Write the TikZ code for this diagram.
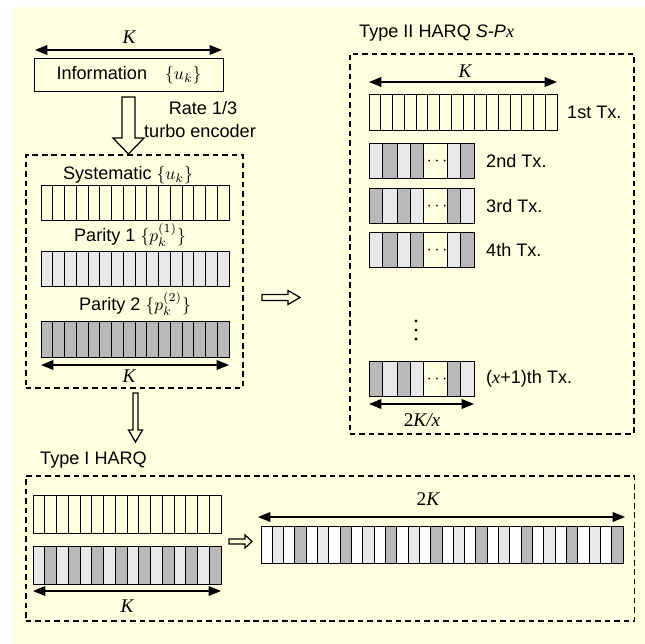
\documentclass[tikz,border=0pt]{standalone}
\usepackage{fontspec}
\setmainfont{Liberation Sans}
\newfontfamily\tnr{Liberation Serif}
\usetikzlibrary{arrows.meta,positioning,calc}
\definecolor{paper}{RGB}{255,255,224}

\tikzset{
  cell/.style={draw, line width=0.55pt},
  lite/.style={cell, fill=gray!18},
  dark/.style={cell, fill=gray!55},
  blank/.style={cell, fill=white},
  bar/.style={inner sep=0pt, anchor=north west, minimum height=0.7cm},
  dim/.style={{Triangle[length=7pt,width=5.5pt]}-{Triangle[length=7pt,width=5.5pt]}, line width=0.7pt},
  group/.style={draw, line width=0.9pt, dash pattern=on 3.2pt off 2.2pt,
    inner sep=0pt, anchor=north west},
  hollow/.style={draw, line width=0.7pt, fill=paper, line join=miter},
  sym/.style={font=\fontsize{11}{12}\selectfont\tnr\itshape}
}

\begin{document}
\begin{tikzpicture}[x=0.02cm, y=-0.02cm,
  every node/.style={font=\fontsize{10.3}{12}\selectfont}]

\useasboundingbox (0,0) rectangle (645,644);
\fill[paper] (13,7) rectangle (645,644);

% ======================================================================
% ENCODER : information word and rate 1/3 turbo encoder output
% ======================================================================
\node[draw, line width=0.6pt, inner sep=0pt, anchor=north west,
      minimum width=3.78cm, minimum height=0.66cm] (info) at (34,58)
  {Information\quad$\{u_k\}$};
\draw[dim] (35,50) -- (222,50);
\node[sym] (kinfo) at (129,37) {K};

\node[group, minimum width=4.34cm, minimum height=4.66cm] (enc) at (25,154) {};

% big hollow arrow (info -> encoder output)
\draw[hollow] (122,97) -- (135,97) -- (135,138) -- (144,138) -- (128.5,154)
  -- (113,138) -- (122,138) -- cycle;
\node (rate) at (203,108) {Rate 1/3};
\node (turbo) at (200,131) {turbo encoder};

% systematic / parity bars (16 cells each)
\node (syslab) at (128,175) {Systematic $\{u_k\}$};
\foreach \i in {0,...,15}
  \draw[cell] ({41+11.75*\i},185) rectangle ++(11.75,35);
\node[bar, minimum width=3.76cm] (sys) at (41,185) {};

\node (p1lab) at (130,235) {Parity 1 $\{p_k^{(1)}\}$};
\foreach \i in {0,...,15}
  \draw[lite] ({41+11.75*\i},251) rectangle ++(11.75,35);
\node[bar, minimum width=3.76cm] (par1) at (41,251) {};

\node (p2lab) at (135,304) {Parity 2 $\{p_k^{(2)}\}$};
\foreach \i in {0,...,15}
  \draw[dark] ({41+11.75*\i},321) rectangle ++(11.75,36);
\node[bar, minimum width=3.76cm] (par2) at (41,321) {};
\draw[dim] (41,365) -- (229,365);
\node[sym] (kenc) at (129,376) {K};

% ======================================================================
% TYPE II HARQ S-Px
% ======================================================================
\node[anchor=west] (t2lab) at (353,33) {Type II HARQ \textit{S-P}{\tnr\itshape x}};
\node[group, minimum width=5.68cm, minimum height=7.6cm] (t2) at (349,53) {};

% hollow arrow (encoder output -> type II)
\draw[hollow] (262,294.5) -- (288,294.5) -- (288,290.5) -- (300,297.5)
  -- (288,304.5) -- (288,300.5) -- (262,300.5) -- cycle;

\draw[dim] (369,82) -- (557,82);
\node[sym] (kt2) at (465,71) {K};
\foreach \i in {0,...,15}
  \draw[cell] ({369+11.75*\i},94) rectangle ++(11.75,36);
\node[bar, minimum width=3.76cm] (tx1) at (369,94) {};
\node[anchor=west] (tx1lab) at (561,112) {1st Tx.};

% punctured retransmissions: cells a,b,a,b,...,a,b
\foreach \y/\a/\b/\name in {143/lite/dark/tx2, 188/dark/lite/tx3,
                           232/lite/dark/tx4, 361/dark/lite/txx}{
  \draw[\a] (369,\y) rectangle ++(13,35);
  \draw[\b] (382,\y) rectangle ++(15,35);
  \draw[\a] (397,\y) rectangle ++(13,35);
  \draw[\b] (410,\y) rectangle ++(13,35);
  \draw[cell] (423,\y) rectangle ++(24,35);
  \draw[\a] (447,\y) rectangle ++(13,35);
  \draw[\b] (460,\y) rectangle ++(14,35);
  \node[inner sep=0pt] at (437,{\y+19}) {$\cdots$};
  \node[bar, minimum width=2.1cm] (\name) at (369,\y) {};
}
\node[anchor=west] (tx2lab) at (480,161) {2nd Tx.};
\node[anchor=west] (tx3lab) at (480,206) {3rd Tx.};
\node[anchor=west] (tx4lab) at (480,250) {4th Tx.};
\node[anchor=west] (txxlab) at (480,379) {({\tnr\itshape x}+1)th Tx.};

\foreach \y in {321,330,339}
  \fill (416,\y) circle (1.6);

\draw[dim] (369,404) -- (474,404);
\node (kx) at (422,420) {{\tnr\fontsize{11}{12}\selectfont 2\itshape K/x}};

% ======================================================================
% TYPE I HARQ
% ======================================================================
% thin hollow arrow (encoder output -> type I)
\draw[hollow] (133,393) -- (138,393) -- (138,430) -- (142.5,430) -- (135.5,442)
  -- (128.5,430) -- (133,430) -- cycle;

\node[anchor=west] (t1lab) at (34,460) {Type I HARQ};
\node[group, minimum width=12.18cm, minimum height=2.9cm] (t1) at (25,475) {};

\foreach \i in {0,...,15}
  \draw[cell] ({33+11.75*\i},495) rectangle ++(11.75,38);
\node[bar, minimum width=3.76cm] (t1sys) at (33,495) {};

\foreach \i in {0,2,...,14}
  \draw[lite] ({33+11.75*\i},546) rectangle ++(11.75,38);
\foreach \i in {1,3,...,15}
  \draw[dark] ({33+11.75*\i},546) rectangle ++(11.75,38);
\node[bar, minimum width=3.76cm] (t1par) at (33,546) {};
\draw[dim] (33,591) -- (221,591);
\node[sym] (kt1) at (127,606) {K};

% small hollow arrow (type I bars -> codeword)
\draw[hollow] (229,539) -- (245,539) -- (245,535) -- (252,541.5)
  -- (245,548) -- (245,544) -- (229,544) -- cycle;

% rate 2/3 codeword: 32 cells, pattern blank/lite/blank/dark
\foreach \i in {0,2,...,30}
  \draw[blank] ({261+11.3125*\i},526) rectangle ++(11.3125,37);
\foreach \i in {1,5,...,29}
  \draw[lite] ({261+11.3125*\i},526) rectangle ++(11.3125,37);
\foreach \i in {3,7,...,31}
  \draw[dark] ({261+11.3125*\i},526) rectangle ++(11.3125,37);
\node[bar, minimum width=7.24cm] (cw) at (261,526) {};
\draw[dim] (258,517) -- (625,517);
\node (k2) at (428,499) {{\tnr\fontsize{11}{12}\selectfont 2\itshape K}};

\end{tikzpicture}
\end{document}
